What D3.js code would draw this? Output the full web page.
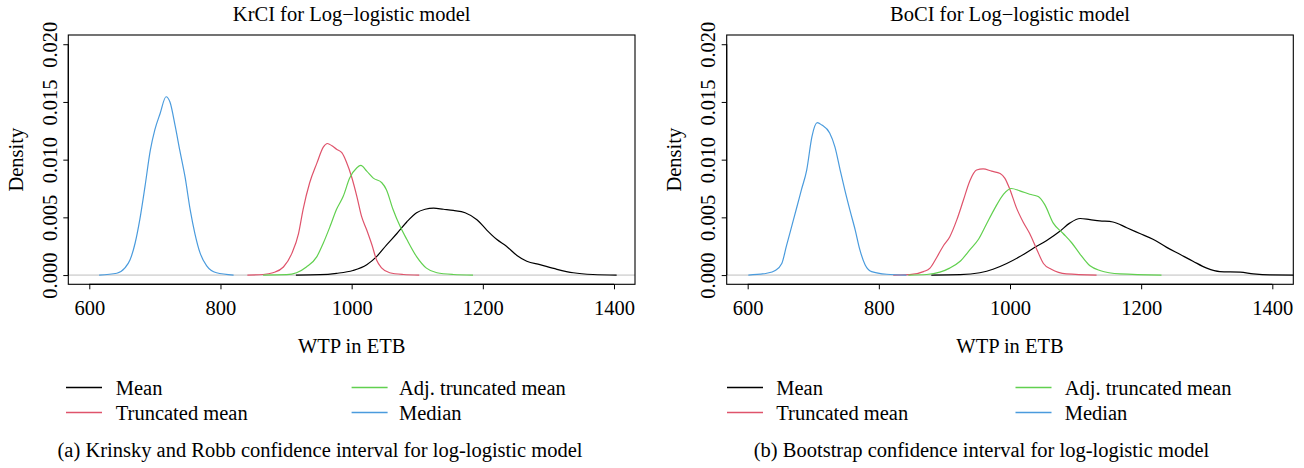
<!DOCTYPE html>
<html><head><meta charset="utf-8">
<script src="https://cdn.jsdelivr.net/npm/d3@7"></script>
<style>
body{margin:0;background:#fff}
svg text{font-family:"Liberation Serif","Times New Roman",serif;fill:#000}
</style>
</head><body>
<svg id="chart" width="1304" height="468"></svg>
<script>
// ---------- data ----------
const wtpTicks = [600, 800, 1000, 1200, 1400];
const densityTicks = [0, 0.005, 0.010, 0.015, 0.020];
const seriesNames = ["Mean", "Truncated mean", "Adj. truncated mean", "Median"];

// Panel (a): Krinsky and Robb CI — [WTP, density]
const krMean = [[915,0],[952,0.00003],[977,0.00015],[1002,0.0004],[1023,0.0009],[1038,0.0016],[1053,0.0026],[1069,0.0036],[1084,0.0046],[1099,0.0054],[1112,0.0057],[1125,0.0058],[1140,0.0057],[1155,0.0056],[1173,0.0054],[1191,0.0048],[1206,0.0039],[1221,0.0031],[1236,0.0025],[1252,0.0017],[1267,0.0012],[1287,0.0009],[1313,0.0005],[1338,0.0002],[1368,0.00005],[1404,0]];
const krTrunc = [[841,0],[865,0.00005],[880,0.0002],[896,0.0007],[909,0.0019],[919,0.0036],[926,0.0057],[936,0.0080],[947,0.0097],[957,0.0111],[963,0.0114],[970,0.0112],[977,0.0109],[985,0.0106],[992,0.0098],[1000,0.0085],[1008,0.0068],[1015,0.0051],[1023,0.0039],[1031,0.0026],[1038,0.0013],[1046,0.0006],[1058,0.0002],[1079,0.00005],[1103,0]];
const krAdj = [[865,0],[901,0.00003],[916,0.0002],[931,0.0007],[947,0.0016],[957,0.0028],[967,0.0042],[977,0.0057],[987,0.0068],[997,0.0084],[1008,0.0093],[1014,0.0095],[1023,0.0090],[1033,0.0084],[1046,0.0080],[1053,0.0074],[1063,0.0057],[1074,0.0042],[1084,0.0031],[1099,0.0016],[1114,0.0006],[1130,0.0002],[1155,0.00005],[1185,0]];
const krMedian = [[615,0],[642,0.00016],[654,0.0006],[662,0.0013],[670,0.0028],[677,0.0048],[685,0.0077],[693,0.0108],[700,0.0126],[708,0.0140],[717,0.01545],[723,0.0150],[731,0.0129],[738,0.0108],[746,0.0085],[754,0.0056],[761,0.0036],[769,0.0019],[779,0.0008],[794,0.0002],[820,0]];

// Panel (b): Bootstrap CI — [WTP, density]
const boMean = [[880,0],[924,0.00003],[954,0.0002],[974,0.0005],[995,0.0010],[1015,0.0016],[1035,0.0023],[1056,0.0030],[1076,0.0038],[1091,0.0045],[1107,0.0049],[1122,0.0048],[1137,0.0047],[1157,0.0046],[1178,0.0041],[1198,0.0036],[1218,0.0031],[1239,0.0024],[1259,0.0018],[1279,0.0012],[1300,0.0006],[1320,0.0003],[1351,0.00025],[1371,0.0001],[1396,0.00001],[1445,0]];
const boTrunc = [[822,0],[847,0.00003],[868,0.0003],[878,0.0006],[888,0.0015],[898,0.0025],[908,0.0033],[919,0.0048],[929,0.0065],[939,0.0082],[949,0.0091],[959,0.0092],[972,0.0090],[985,0.0088],[992,0.0084],[1000,0.0074],[1010,0.0058],[1020,0.0046],[1030,0.0036],[1041,0.0022],[1051,0.0010],[1063,0.0005],[1086,0.0001],[1132,0]];
const boAdj = [[845,0],[873,0.00005],[893,0.00025],[908,0.0006],[924,0.0012],[939,0.0022],[952,0.0031],[964,0.0044],[977,0.0058],[990,0.0070],[1002,0.0075],[1015,0.0073],[1030,0.0070],[1043,0.0068],[1053,0.0061],[1066,0.0045],[1081,0.0036],[1094,0.0028],[1107,0.0018],[1122,0.0008],[1137,0.0004],[1168,0.0001],[1231,0]];
const boMedian = [[601,0],[629,0.00016],[642,0.0004],[652,0.0010],[659,0.0025],[667,0.0042],[675,0.0059],[682,0.0074],[690,0.0091],[698,0.0120],[706,0.0132],[713,0.0130],[725,0.0123],[733,0.0111],[741,0.0091],[748,0.0074],[756,0.0056],[764,0.0039],[771,0.0022],[779,0.0009],[789,0.0003],[812,0.00007],[842,0]];

// ---------- styling / layout ----------
const seriesColors = ["#000000", "#DF536B", "#61D04F", "#4A9BDD"];
const FONT = 20.5;
const TICKFONT = 20.5;
const boxTop = 35, boxBottom = 284.3;

const panels = [
  { title: "KrCI for Log\u2212logistic model",
    caption: "(a) Krinsky and Robb confidence interval for log-logistic model",
    captionX: 320, left: 68.3, right: 635,
    legendLineX: [66, 351.6], legendTextX: [115.8, 399],
    series: [krMean, krTrunc, krAdj, krMedian] },
  { title: "BoCI for Log\u2212logistic model",
    caption: "(b) Bootstrap confidence interval for log-logistic model",
    captionX: 981.5, left: 726.7, right: 1293.3,
    legendLineX: [727, 1015.5], legendTextX: [776.3, 1064.7],
    series: [boMean, boTrunc, boAdj, boMedian] }
];

const svg = d3.select("#chart");
svg.append("rect").attr("width", 1304).attr("height", 468).attr("fill", "#fff");

panels.forEach((p, pi) => {
  const x = d3.scaleLinear().domain([568, 1432]).range([p.left, p.right]);
  const y = d3.scaleLinear().domain([-0.0008, 0.0208]).range([boxBottom, boxTop]);
  const g = svg.append("g");

  const clipId = "clip" + pi;
  svg.append("defs").append("clipPath").attr("id", clipId)
    .append("rect").attr("x", p.left).attr("y", boxTop)
    .attr("width", p.right - p.left).attr("height", boxBottom - boxTop);

  // zero reference line
  g.append("line").attr("x1", p.left).attr("x2", p.right)
    .attr("y1", y(0)).attr("y2", y(0))
    .attr("stroke", "#BEBEBE").attr("stroke-width", 1);

  // curves
  const line = d3.line().x(d => x(d[0])).y(d => y(d[1])).curve(d3.curveMonotoneX);
  const cg = g.append("g").attr("clip-path", `url(#${clipId})`);
  p.series.forEach((s, i) => {
    cg.append("path").datum(s).attr("d", line)
      .attr("fill", "none").attr("stroke", seriesColors[i])
      .attr("stroke-width", 1.2).attr("stroke-linejoin", "round");
  });

  // box
  g.append("rect").attr("x", p.left).attr("y", boxTop)
    .attr("width", p.right - p.left).attr("height", boxBottom - boxTop)
    .attr("fill", "none").attr("stroke", "#000").attr("stroke-width", 1.1);

  // x axis
  const xAxis = d3.axisBottom(x).tickValues(wtpTicks).tickSize(5).tickPadding(3).tickFormat(d3.format("d"));
  const xa = g.append("g").attr("transform", `translate(0,${boxBottom})`).call(xAxis);
  xa.attr("font-family", null);
  xa.select(".domain").attr("d", `M${x(600)},0H${x(1400)}`).attr("stroke-width", 1.2);
  xa.selectAll(".tick line").attr("stroke-width", 1);
  xa.selectAll(".tick text").attr("font-size", TICKFONT).attr("dy", null)
    .attr("y", 30.5).style("font-family", '"Liberation Serif",serif');

  // y axis
  const yAxis = d3.axisLeft(y).tickValues(densityTicks).tickSize(5).tickFormat(d3.format(".3f"));
  const ya = g.append("g").attr("transform", `translate(${p.left},0)`).call(yAxis);
  ya.attr("font-family", null);
  ya.select(".domain").attr("d", `M0,${y(0)}V${y(0.02)}`).attr("stroke-width", 1.1);
  ya.selectAll(".tick text").remove();
  ya.selectAll(".tick").append("text")
    .attr("transform", "translate(-11.6,0) rotate(-90)")
    .attr("text-anchor", "middle").attr("font-size", TICKFONT)
    .style("font-family", '"Liberation Serif",serif')
    .text(d => d3.format(".3f")(d));

  // y label
  g.append("text").attr("transform", `translate(${p.left - 45.8},${(boxTop + boxBottom) / 2}) rotate(-90)`)
    .attr("text-anchor", "middle").attr("font-size", FONT).text("Density");

  // title
  g.append("text").attr("x", (p.left + p.right) / 2).attr("y", 21)
    .attr("text-anchor", "middle").attr("font-size", FONT).text(p.title);

  // x label
  g.append("text").attr("x", (p.left + p.right) / 2).attr("y", 353)
    .attr("text-anchor", "middle").attr("font-size", FONT).text("WTP in ETB");

  // legend
  seriesNames.forEach((name, i) => {
    const col = Math.floor(i / 2), row = i % 2;
    const base = 395 + row * 25;
    g.append("line").attr("x1", p.legendLineX[col]).attr("x2", p.legendLineX[col] + 36)
      .attr("y1", base - 7.5).attr("y2", base - 7.5)
      .attr("stroke", seriesColors[i]).attr("stroke-width", 1.4);
    g.append("text").attr("x", p.legendTextX[col]).attr("y", base)
      .attr("font-size", FONT).text(name);
  });

  // caption
  g.append("text").attr("x", p.captionX).attr("y", 457)
    .attr("text-anchor", "middle").attr("font-size", FONT).text(p.caption);
});
</script>
</body></html>
